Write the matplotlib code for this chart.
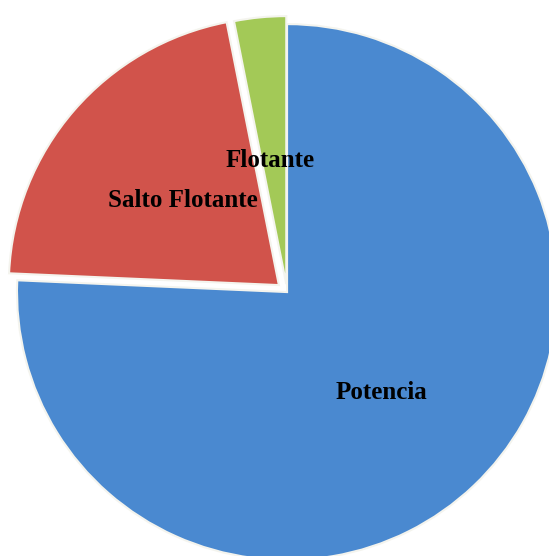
import matplotlib.pyplot as plt

labels = ["Potencia", "Salto Flotante", "Flotante"]
values = [75.7, 21.2, 3.1]
colors = ["#4a89d0", "#d1534b", "#a3c957"]
explode = [0, 0.04, 0.03]

fig = plt.figure(figsize=(5.49, 5.56), dpi=100)
ax = fig.add_axes([0, 0, 1, 1])
wedges, _ = ax.pie(values, colors=colors, explode=explode, startangle=90,
                   counterclock=False,
                   wedgeprops=dict(edgecolor="#f4f4ee", linewidth=1.5))
ax.set_aspect("auto")
ax.set_xlim(-1.063, 0.970)
ax.set_ylim(-0.985, 1.09)
ax.axis("off")

# label positions (data coords)
pos = [(0.35, -0.373), (-0.385, 0.343), (-0.063, 0.49)]
for lab, (x, y) in zip(labels, pos):
    ax.text(x, y, lab, ha="center", va="center", fontsize=18,
            fontweight="bold", family="Liberation Serif", color="black")

fig.savefig("out.png", dpi=100)
